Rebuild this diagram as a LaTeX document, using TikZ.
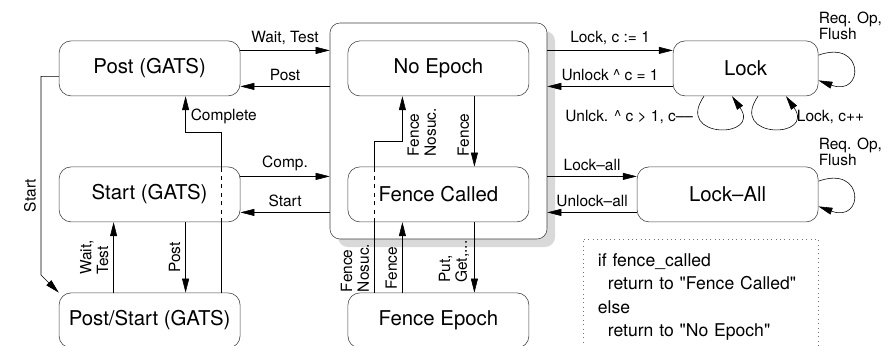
\documentclass[tikz,border=0pt]{standalone}
\usepackage{fontspec}
\setmainfont{TeX Gyre Heros}
\usetikzlibrary{arrows.meta,shadows,positioning}
\tikzstyle{hit}=[->,>={Triangle[length=10pt,width=5pt]}]
\tikzstyle{tr}=[every edge/.style={draw,hit}]
\tikzstyle{state}=[draw=black!75,rounded corners=0.3cm,fill=white,minimum width=4.525cm,
                minimum height=1.375cm,font=\fontsize{14.5}{16}\selectfont]
\tikzstyle{epochbox}=[draw=black!75,rounded corners=0.25cm,fill=white,minimum width=5.425cm,minimum height=5.4cm,
                drop shadow={shadow xshift=0.2cm,shadow yshift=-0.2cm,fill=black!15,opacity=1}]
\tikzstyle{lbl}=[font=\fontsize{11}{12}\selectfont,inner sep=3.5pt]
\tikzstyle{vlbl}=[lbl,rotate=90,align=left]
\tikzstyle{notebox}=[draw=black!55,dash pattern=on 0.7pt off 2.4pt,text width=5.125cm,inner xsep=0.375cm,
                minimum height=2.9cm,align=left,font=\fontsize{12.5}{16.8}\selectfont]
\tikzstyle{bloop}=[out=-125,in=-55,looseness=4.8]
\newcommand{\lpair}[3]{\path[tr] ([yshift=4.5mm]#1.east) edge node[lbl,above]{#2} ([yshift=4.5mm]#1.east -| epochs.west)
  ([yshift=-4.5mm]#1.east -| epochs.west) edge node[lbl,above]{#3} ([yshift=-4.5mm]#1.east);}
\newcommand{\rpair}[3]{\path[tr] ([yshift=4.5mm]#1.west -| epochs.east) edge node[lbl,above]{#2} ([yshift=4.5mm]#1.west)
  ([yshift=-4.5mm]#1.west) edge node[lbl,above]{#3} ([yshift=-4.5mm]#1.west -| epochs.east);}
\newcommand{\rloop}[1]{\path[tr] ([yshift=3.3mm]#1.east) edge[out=20,in=-20,looseness=5] ([yshift=-3mm]#1.east);
  \node[lbl,align=left,above right=-1.2mm and -1.2mm of #1.north east] {Req. Op,\\Flush};}
\newcommand{\qt}[1]{\textquotedbl#1\textquotedbl}

\begin{document}
\begin{tikzpicture}
  \useasboundingbox (0,0) rectangle (22.4,-8.625);

  \node[epochbox] (epochs) at (10.9625,-3.275) {};
  \node[state] (post) at (3.74,-1.71) {Post (GATS)};
  \node[state] (st) at (3.74,-4.86) {Start (GATS)};
  \node[state] (ps) at (3.74,-8.01) {Post/Start (GATS)};
  \node[state] (ne) at (10.96,-1.71) {No Epoch};
  \node[state] (fc) at (10.96,-4.86) {Fence Called};
  \node[state] (fe) at (10.96,-8.01) {Fence Epoch};
  \node[state,minimum width=3.625cm] (lock) at (18.64,-1.71) {Lock};
  \node[state] (la) at (18.19,-4.86) {Lock--All};
  \node[notebox] (note) at (17.51,-7.425) {if fence\_called\\\hspace*{2.5mm}return to \qt{Fence Called}\\else\\\hspace*{2.5mm}return to \qt{No Epoch}};

  \lpair{post}{Wait, Test}{Post}
  \lpair{st}{Comp.}{Start}
  \rpair{lock}{Lock, c := 1}{Unlock \textasciicircum\ c = 1}
  \rpair{la}{Lock--all}{Unlock--all}
  \rloop{lock}
  \rloop{la}
  \path[tr] ([xshift=-10.4mm]lock.south) edge[bloop]
    node[lbl,pos=0.2,left]{Unlck. \textasciicircum\ c > 1, c--{}--} ([xshift=-3.4mm]lock.south);
  \path[tr] ([xshift=3.1mm]lock.south) edge[bloop]
    node[lbl,pos=0.8,right]{Lock, c++} ([xshift=10.1mm]lock.south);

  \coordinate (bend) at (1.025,-6.875);
  \draw[hit] ([yshift=-2mm]post.west) -| node[vlbl,pos=0.8,anchor=south]{Start} (bend) -- (ps.north west);
  \path[tr] ([xshift=-9mm]ps.north) edge node[vlbl,anchor=south]{Wait,\\Test} ([xshift=-9mm]st.south)
    ([xshift=9mm]st.south) edge node[vlbl,anchor=south]{Post} ([xshift=9mm]ps.north);
  \draw ([xshift=18mm]ps.north) -- ([xshift=18mm]st.south);
  \draw[dashed] ([xshift=18mm]st.south) -- ([xshift=18mm]st.north);
  \draw[hit] ([xshift=18mm]st.north) |- ([xshift=9mm,yshift=-9mm]post.south)
    -- node[lbl,right,pos=0.45]{Complete} ([xshift=9mm]post.south);

  \path[tr] ([xshift=9mm]ne.south) edge node[vlbl,anchor=south,pos=0.55]{Fence} ([xshift=9mm]fc.north)
    ([xshift=-9mm]fe.north) edge node[vlbl,anchor=south,pos=0.35]{Fence} ([xshift=-9mm]fc.south)
    ([xshift=9mm]fc.south) edge node[vlbl,anchor=south,pos=0.56]{Put,\\Get,...} ([xshift=9mm]fe.north);
  \draw ([xshift=-16mm]fe.north) -- node[vlbl,anchor=south,pos=0.35]{Fence\\Nosuc.} ([xshift=-16mm]fc.south);
  \draw[dashed] ([xshift=-16mm]fc.south) -- ([xshift=-16mm]fc.north);
  \draw[hit] ([xshift=-16mm]fc.north) |- ([xshift=-9mm,yshift=-11.25mm]ne.south)
    -- node[vlbl,anchor=north,pos=0.2]{Fence\\Nosuc.} ([xshift=-9mm]ne.south);
\end{tikzpicture}
\end{document}
